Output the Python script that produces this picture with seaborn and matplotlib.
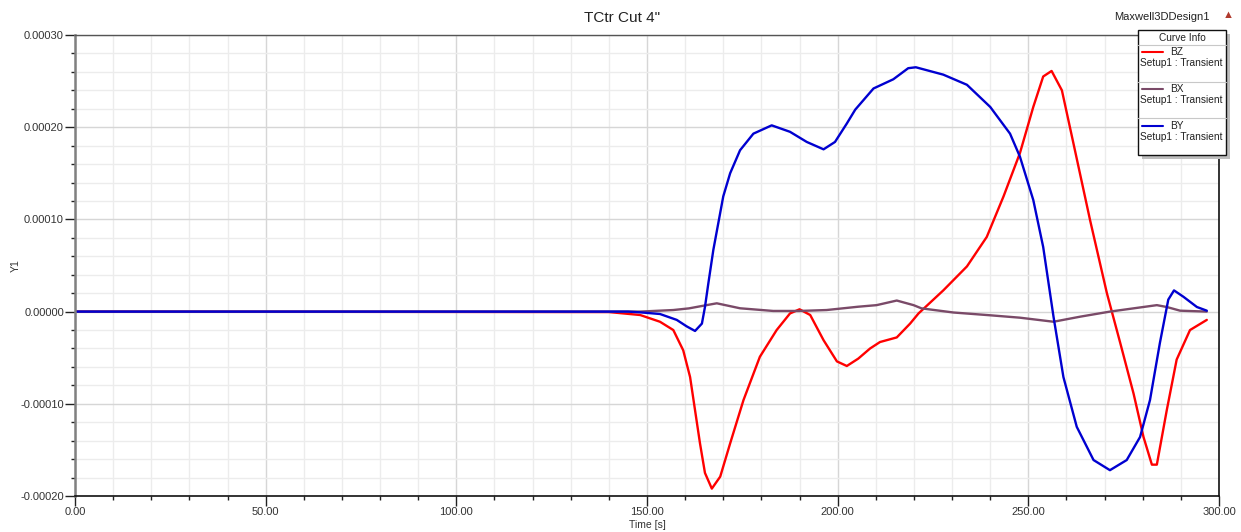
import matplotlib
matplotlib.use("Agg")
import matplotlib.pyplot as plt
from matplotlib.lines import Line2D
from matplotlib.patches import Rectangle
from matplotlib.ticker import MultipleLocator, FormatStrFormatter
import seaborn as sns
import pandas as pd

# time [s] and field values [T]
t_bz = [0, 140, 148.2, 153.4, 156.9, 159.5, 161.3, 162.6, 163.9, 165.2,
        167.0, 169.2, 171.8, 175.3, 179.6, 184.0, 187.5, 190.0, 192.8, 196.3,
        199.8, 202.4, 205.4, 208.5, 211.1, 215.5, 219.0, 221.2, 227.7, 233.9,
        239.1, 243.5, 247.8, 251.3, 253.9, 256.1, 258.8, 261.8, 266.2, 270.6,
        274.1, 277.6, 280.2, 282.4, 283.7, 286.3, 288.9, 292.4, 296.8]
bz = [0, -0.05e-5, -0.37e-5, -1.1e-5, -2.0e-5, -4.2e-5, -7.1e-5, -10.7e-5, -14.3e-5, -17.5e-5,
      -19.2e-5, -17.9e-5, -14.3e-5, -9.6e-5, -4.9e-5, -2.0e-5, -0.2e-5, 0.25e-5, -0.37e-5, -3.1e-5,
      -5.4e-5, -5.9e-5, -5.1e-5, -4.0e-5, -3.3e-5, -2.8e-5, -1.3e-5, -0.2e-5, 2.3e-5, 4.9e-5,
      8.1e-5, 12.5e-5, 17.2e-5, 22.2e-5, 25.5e-5, 26.1e-5, 24.0e-5, 18.3e-5, 9.9e-5, 2.0e-5,
      -3.4e-5, -8.9e-5, -13.6e-5, -16.6e-5, -16.6e-5, -10.7e-5, -5.2e-5, -2.0e-5, -0.9e-5]

t_bx = [0, 148.2, 156.9, 161.0, 165.6, 168.3, 174.4, 183.1, 190.0, 197.1,
        205.4, 210.2, 215.5, 219.9, 222.0, 230.4, 240.0, 247.8, 256.6, 263.6,
        271.4, 279.3, 283.7, 286.3, 289.8, 296.8]
bx = [0, 0, 0.17e-5, 0.35e-5, 0.7e-5, 0.9e-5, 0.36e-5, 0.07e-5, 0.07e-5, 0.17e-5,
      0.53e-5, 0.7e-5, 1.2e-5, 0.7e-5, 0.35e-5, -0.1e-5, -0.4e-5, -0.66e-5, -1.1e-5, -0.55e-5,
      0, 0.45e-5, 0.7e-5, 0.5e-5, 0.1e-5, 0]

t_by = [0, 145, 148.2, 153.4, 157.8, 160.4, 162.6, 164.4, 165.2, 166.1,
        167.4, 168.7, 170.0, 171.8, 174.4, 177.9, 182.7, 187.5, 191.9, 196.3,
        199.3, 202.4, 204.6, 209.4, 214.6, 218.5, 220.5, 227.7, 233.9, 240.0,
        245.2, 247.8, 251.3, 253.9, 256.6, 259.2, 262.7, 267.1, 271.4, 275.8,
        279.3, 281.9, 284.5, 286.7, 288.2, 290.7, 294.2, 296.8]
by = [0, 0, -0.08e-5, -0.26e-5, -0.9e-5, -1.6e-5, -2.1e-5, -1.3e-5, 0.5e-5, 3.1e-5,
      6.7e-5, 9.6e-5, 12.5e-5, 15.0e-5, 17.5e-5, 19.3e-5, 20.2e-5, 19.5e-5, 18.4e-5, 17.6e-5,
      18.4e-5, 20.4e-5, 21.9e-5, 24.2e-5, 25.2e-5, 26.4e-5, 26.5e-5, 25.7e-5, 24.6e-5, 22.2e-5,
      19.3e-5, 16.8e-5, 12.1e-5, 7.0e-5, -0.55e-5, -7.1e-5, -12.5e-5, -16.1e-5, -17.2e-5, -16.1e-5,
      -13.6e-5, -9.6e-5, -3.4e-5, 1.3e-5, 2.3e-5, 1.6e-5, 0.5e-5, 0.1e-5]

curves = ["BZ", "BX", "BY"]
colors = {"BZ": "#ff0000", "BX": "#7a4a68", "BY": "#0000d0"}

df = pd.concat([
    pd.DataFrame({"t": t_bz, "val": bz, "curve": "BZ"}),
    pd.DataFrame({"t": t_bx, "val": bx, "curve": "BX"}),
    pd.DataFrame({"t": t_by, "val": by, "curve": "BY"}),
])

sns.set_theme(style="white")
plt.rcParams["font.family"] = ["Liberation Sans", "DejaVu Sans"]

fig = plt.figure(figsize=(12.41, 5.32), dpi=100)
ax = fig.add_axes([75 / 1241, 1 - 496 / 532, 1144 / 1241, 461 / 532])

sns.lineplot(data=df, x="t", y="val", hue="curve", hue_order=curves,
             palette=colors, sort=False, estimator=None, linewidth=1.7,
             legend=False, ax=ax)

ax.set_xlim(0, 300)
ax.set_ylim(-0.0002, 0.0003)
ax.xaxis.set_major_locator(MultipleLocator(50))
ax.xaxis.set_minor_locator(MultipleLocator(10))
ax.yaxis.set_major_locator(MultipleLocator(0.0001))
ax.yaxis.set_minor_locator(MultipleLocator(0.00002))
ax.xaxis.set_major_formatter(FormatStrFormatter("%.2f"))
ax.yaxis.set_major_formatter(FormatStrFormatter("%.5f"))
ax.grid(which="major", color="#d6d6d6", linewidth=1.0)
ax.grid(which="minor", color="#ececec", linewidth=1.0)
ax.set_axisbelow(True)
ax.tick_params(which="major", direction="out", length=7, width=1, color="#222222",
               labelsize=8, labelcolor="#333333", pad=1,
               bottom=True, left=True)
ax.tick_params(which="minor", direction="out", length=3, width=1, color="#222222",
               bottom=True, left=True)
for side, c, w in [("left", "#808080", 1.8), ("bottom", "#111111", 1.2),
                   ("right", "#111111", 1.2), ("top", "#555555", 1.0)]:
    ax.spines[side].set_color(c)
    ax.spines[side].set_linewidth(w)

ax.set_xlabel("Time [s]", fontsize=7.5, color="#333333", labelpad=2)
ax.set_ylabel("Y1", fontsize=7.5, color="#333333")
ax.yaxis.set_label_coords(-0.0476, 0.5)

fig.text(622 / 1241, 1 - 18 / 532, 'TCtr Cut 4"', ha="center", va="center",
         fontsize=11, color="#222222")
fig.text(1210 / 1241, 1 - 17 / 532, "Maxwell3DDesign1", ha="right", va="center",
         fontsize=8, color="#222222")
fig.text(1228 / 1241, 1 - 15 / 532, "\u25b2", ha="center", va="center",
         fontsize=8, color="#b03a2e")

# legend panel, drawn like the Maxwell "Curve Info" box
lx0, lx1, ly0, ly1 = 1138, 1226, 30, 155


def fx(px):
    return px / 1241


def fy(py):
    return 1 - py / 532


fig.patches.append(Rectangle((fx(lx0 + 4), fy(ly1 + 4)), fx(lx1 - lx0), (ly1 - ly0) / 532,
                             transform=fig.transFigure, facecolor="#bdbdbd",
                             edgecolor="none", zorder=5))
fig.patches.append(Rectangle((fx(lx0), fy(ly1)), fx(lx1 - lx0), (ly1 - ly0) / 532,
                             transform=fig.transFigure, facecolor="white",
                             edgecolor="#111111", linewidth=1.0, zorder=6))
fig.text(fx((lx0 + lx1) / 2), fy(38), "Curve Info", ha="center", va="center",
         fontsize=7.3, color="#222222", zorder=7)
for sep in [45, 82, 118]:
    fig.lines.append(Line2D([fx(lx0), fx(lx1)], [fy(sep), fy(sep)],
                            transform=fig.transFigure, color="#c8c8c8", lw=0.8, zorder=7))
for i, name in enumerate(curves):
    yl = 52 + i * 37
    fig.lines.append(Line2D([fx(1142), fx(1163)], [fy(yl), fy(yl)],
                            transform=fig.transFigure, color=colors[name], lw=1.5, zorder=7))
    fig.text(fx(1170), fy(yl), name, ha="left", va="center", fontsize=7.3,
             color="#222222", zorder=7)
    fig.text(fx(1140), fy(yl + 11), "Setup1 : Transient", ha="left", va="center",
             fontsize=7.3, color="#222222", zorder=7)

fig.savefig("out.png", dpi=100)
